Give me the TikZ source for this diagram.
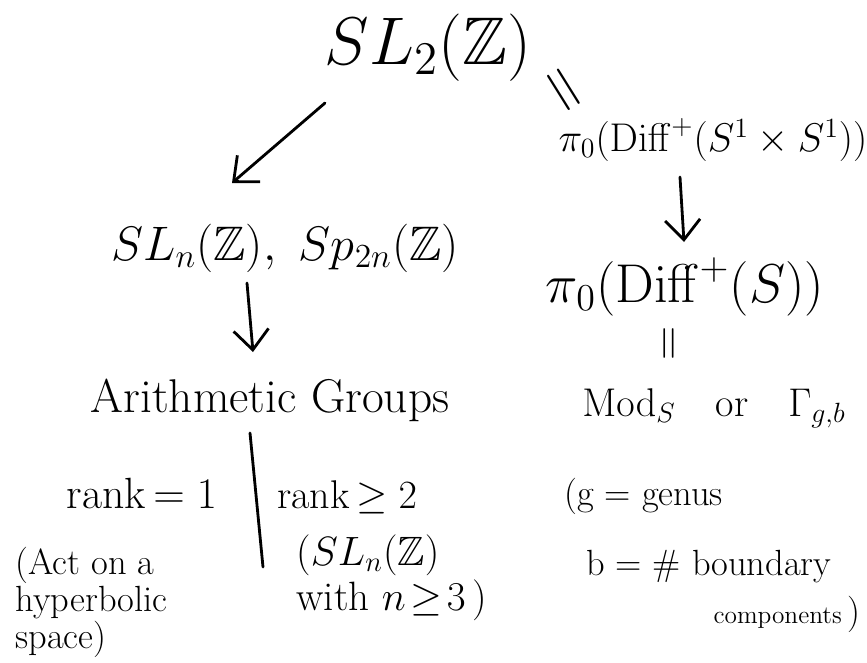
\documentclass[tikz,border=0pt]{standalone}
\usepackage{amsmath,amssymb}
\usetikzlibrary{arrows.meta,calc}
\tikzset{
    every node/.style={font=\huge},
    note/.style={align=left,anchor=north west},
    eq/.style={font=\huge,inner sep=0pt},
    hand/.style={line width=1.6pt,line cap=round},
    arrow/.style={hand,-{Straight Barb[length=4mm,width=7mm,line width=1.6pt]}}
}

\begin{document}
\begin{tikzpicture}[x=0.02cm,y=-0.02cm]
    \useasboundingbox (0,0) rectangle (867,663);
    % top of the tree
    \node[scale=1.85,inner sep=1pt] (sl2) at (428,48) {$SL_2(\mathbb{Z})$};
    \node[eq,rotate=-58,scale=1.8] (eqtop) at (560,92) {$=$};
    \node[scale=1.1,inner sep=1pt] (mcgtorus) at (713,140) {$\pi_0(\mathrm{Diff}^+(S^1\times S^1))$};
    % left branch
    \node[scale=1.33] (sln) at (285,248) {$SL_n(\mathbb{Z}),\ Sp_{2n}(\mathbb{Z})$};
    \node[scale=1.3] (arith) at (270,400) {Arithmetic Groups};
    \node[scale=1.2] (rk1) at (142,493) {rank$\,=1$};
    \node[scale=1.1] (rk2) at (347,497) {rank$\,\geq 2$};
    \node[note,scale=1.2,font={\fontsize{17.28}{15.2}\selectfont}] (act) at (8,540) {(Act on a\\ hyperbolic\\ space)};
    \node[note,scale=1.35,font={\fontsize{17.28}{19}\selectfont}] (higher) at (288,526) {($SL_n(\mathbb{Z})$\\ with $n\!\geq\!3$\,)};
    \coordinate (divtop) at (250,433);
    \coordinate (divbot) at (263,567);
    % right branch
    \node[scale=1.5] (mcgs) at (685,287) {$\pi_0(\mathrm{Diff}^+(S))$};
    \node[eq,rotate=90,scale=1.3] (eqmid) at (672,343) {$=$};
    \node[scale=1.1] (mod) at (714,408) {$\mathrm{Mod}_S$\quad or\quad $\Gamma_{g,b}$};
    \node[note] (genus) at (558,472) {(g = genus\\[15pt] \hspace*{0.6em}b = \# boundary\\[2pt] \hspace*{4.1em}{\Large components}\,)};

    \draw[arrow] ($(sl2)+(-103,55)$) -- ($(sln)+(-53,-65)$);
    \draw[arrow] ($(sln)+(-38,35)$) -- ($(arith)+(-17,-48)$);
    \draw[hand] (divtop) -- (divbot);
    \draw[arrow] ($(mcgtorus)+(-33,37)$) -- ($(mcgs)+(-1,-45)$);
\end{tikzpicture}
\end{document}
